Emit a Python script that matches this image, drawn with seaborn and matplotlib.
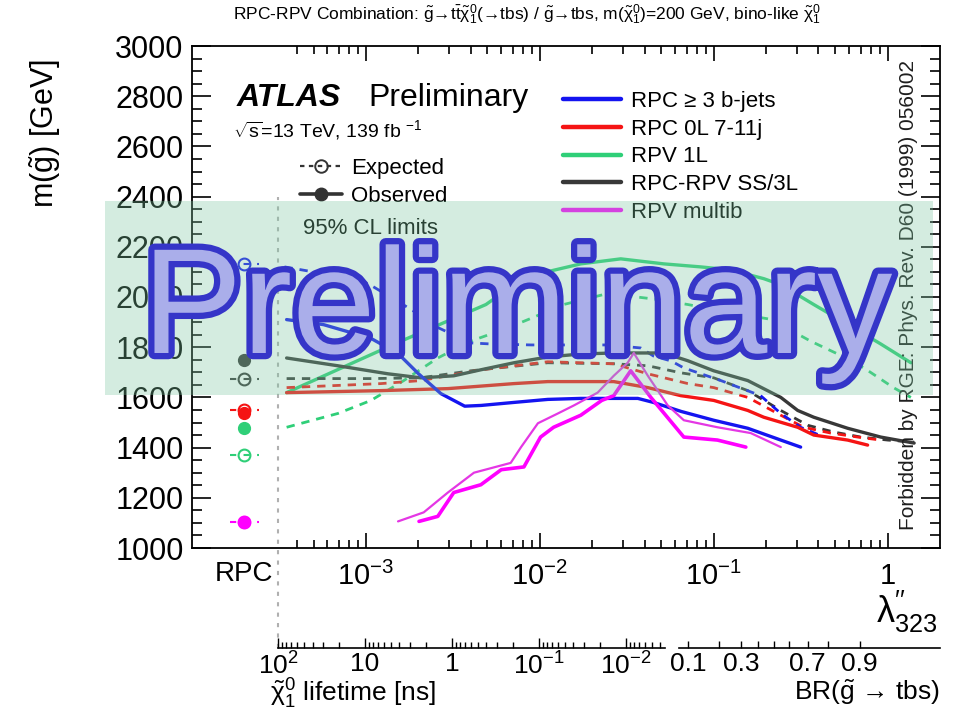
import numpy as np
import seaborn as sns
import matplotlib.pyplot as plt
import matplotlib.patheffects as pe
from matplotlib.lines import Line2D
from matplotlib.patches import Rectangle
from matplotlib.ticker import FixedLocator, FixedFormatter, NullFormatter

#################################################################
# Values: lambda''_323 (x) and m(gluino) in GeV (y)
blue_obs_lam = [3.5e-4, 5.7e-4, 1.07e-3, 1.53e-3, 2.0e-3, 2.7e-3, 3.7e-3, 4.6e-3, 7.1e-3,
                1.11e-2, 1.72e-2, 3.66e-2, 4.5e-2, 6.5e-2, 0.10, 0.157, 0.243, 0.316]
blue_obs_m = [1910, 1890, 1835, 1775, 1695, 1615, 1565, 1568, 1580,
              1592, 1596, 1596, 1580, 1544, 1509, 1477, 1430, 1402]
blue_exp_lam = [3.4e-4, 5.7e-4, 8.2e-4, 1.03e-3, 1.53e-3, 1.89e-3, 2.37e-3, 4.0e-3, 5.2e-3, 8.9e-3,
                2.46e-2, 3.8e-2, 4.5e-2, 5.7e-2, 6.7e-2, 0.11, 0.186, 0.243, 0.316, 0.43]
blue_exp_m = [2120, 2093, 2077, 2053, 1982, 1943, 1891, 1817, 1813, 1809,
              1809, 1797, 1765, 1745, 1718, 1667, 1607, 1536, 1481, 1442]

red_obs_lam = [3.5e-4, 1.22e-3, 2.96e-3, 7.1e-3, 1.11e-2, 2.66e-2, 4.18e-2, 6.46e-2,
               0.10, 0.157, 0.194, 0.304, 0.376, 0.589, 0.767]
red_obs_m = [1619, 1627, 1635, 1655, 1663, 1663, 1639, 1607,
             1588, 1548, 1521, 1481, 1450, 1430, 1410]
red_exp_lam = [3.5e-4, 1.22e-3, 2.07e-3, 4.58e-3, 1.11e-2, 2.66e-2, 4.18e-2, 7.1e-2,
               0.10, 0.157, 0.243, 0.329, 0.47, 0.673, 0.912]
red_exp_m = [1639, 1655, 1667, 1710, 1742, 1734, 1694, 1655,
             1639, 1600, 1529, 1481, 1458, 1442, 1430]

green_obs_lam = [3.5e-4, 1.59e-3, 4.9e-3, 7.1e-3, 1.11e-2, 1.72e-2, 2.92e-2, 5.16e-2,
                 8.4e-2, 0.125, 0.194, 0.243, 0.376, 0.589, 0.912, 1.36]
green_obs_m = [1619, 1824, 1970, 2049, 2101, 2132, 2152, 2132,
               2120, 2108, 2073, 2049, 1970, 1891, 1813, 1738]
green_exp_lam = [3.5e-4, 6.9e-4, 1.07e-3, 1.65e-3, 2.59e-3, 4.0e-3, 6.5e-3, 8.9e-3, 1.37e-2, 2.46e-2,
                 4.77e-2, 7.1e-2, 0.114, 0.213, 0.361, 0.516, 0.728, 1.08, 1.36]
green_exp_m = [1481, 1536, 1588, 1667, 1757, 1824, 1876, 1915, 1970, 2014,
               1990, 1970, 1943, 1911, 1824, 1773, 1718, 1639, 1600]

gray_obs_lam = [3.5e-4, 6.9e-4, 1.34e-3, 2.07e-3, 3.2e-3, 4.58e-3, 7.1e-3, 1.11e-2, 1.72e-2, 2.66e-2,
                5.16e-2, 7.1e-2, 0.10, 0.157, 0.243, 0.304, 0.376, 0.589, 0.912, 1.42]
gray_obs_m = [1757, 1726, 1694, 1678, 1686, 1710, 1738, 1761, 1773, 1777,
              1777, 1746, 1706, 1667, 1600, 1548, 1521, 1477, 1442, 1418]
gray_exp_lam = [3.5e-4, 1.07e-3, 2.07e-3, 4.0e-3, 1.11e-2, 2.66e-2, 4.18e-2, 6.46e-2,
                0.10, 0.157, 0.243, 0.347, 0.49, 0.70, 1.0, 1.42]
gray_exp_m = [1675, 1675, 1678, 1706, 1738, 1734, 1726, 1698,
              1678, 1627, 1548, 1489, 1462, 1442, 1430, 1422]

multib_obs_lam = [2.02e-3, 2.59e-3, 3.2e-3, 4.58e-3, 6.0e-3, 8.1e-3, 1.01e-2, 1.2e-2,
                  1.72e-2, 2.27e-2, 2.66e-2, 3.33e-2, 4.35e-2, 6.73e-2, 0.105, 0.153]
multib_obs_m = [1106, 1126, 1221, 1252, 1312, 1323, 1442, 1481,
                1529, 1588, 1607, 1706, 1600, 1442, 1430, 1402]
multib_exp_lam = [1.53e-3, 2.15e-3, 2.96e-3, 4.18e-3, 6.8e-3, 7.8e-3, 9.75e-3, 1.27e-2, 1.57e-2, 2.15e-2,
                  2.66e-2, 3.2e-2, 3.47e-2, 4.18e-2, 5.44e-2, 6.73e-2, 0.105, 0.163, 0.243]
multib_exp_m = [1106, 1142, 1221, 1300, 1339, 1402, 1497, 1536, 1568, 1619,
                1686, 1738, 1777, 1686, 1568, 1509, 1481, 1458, 1402]

# RPC-only results (left column); the blue observed point is hidden under the watermark
rpc_lam = 2e-4
rpc_names = ['blue', 'red', 'green', 'gray', 'multib']
rpc_exp_m = [2132, 1548, 1372, 1675, 1102]
rpc_obs_m = [np.nan, 1536, 1477, 1749, 1102]

# extra axes: lifetime [ns] and BR(gluino -> tbs)
lam_at_100ns = 3.12e-4
tau_ticks = [100, 10, 1, 0.1, 0.01]
tau_labels = [r'$10^{2}$', '10', '1', r'$10^{-1}$', r'$10^{-2}$']
br_values = [0.1, 0.2, 0.3, 0.4, 0.5, 0.6, 0.7, 0.8, 0.9]
br_lam = [0.071, 0.107, 0.143, 0.179, 0.221, 0.270, 0.347, 0.452, 0.690]
br_labels = ['0.1', '', '0.3', '', '', '', '0.7', '', '0.9']

legend_labels = ['RPC ≥ 3 b-jets', 'RPC 0L 7-11j', 'RPV 1L', 'RPC-RPV SS/3L', 'RPV multib']
#################################################################

colors = {'blue': '#1414f0', 'red': '#f51414', 'green': '#2fcf78', 'gray': '#383838', 'multib': '#ff00ff'}

sns.set_theme(style='ticks', rc={'axes.edgecolor': 'black', 'xtick.color': 'black',
                                 'ytick.color': 'black', 'text.color': 'black'})
plt.rcParams['font.family'] = ['Liberation Sans', 'DejaVu Sans']
plt.rcParams['mathtext.fontset'] = 'custom'
plt.rcParams['mathtext.rm'] = 'Liberation Sans'
plt.rcParams['mathtext.it'] = 'Liberation Sans:italic'
plt.rcParams['mathtext.bf'] = 'Liberation Sans:bold'

W, H = 958, 719
fig = plt.figure(figsize=(W / 100, H / 100), dpi=100)
ax = fig.add_axes([192 / W, 1 - 548 / H, 748 / W, 502 / H])
ax.set_xscale('log')
ax.set_xlim(1e-4, 2.0)
ax.set_ylim(1000, 3000)

dash = (0, (3, 2.5))
curves = [
    (green_exp_lam, green_exp_m, colors['green'], dash, 2.0),
    (green_obs_lam, green_obs_m, colors['green'], '-', 2.4),
    (gray_exp_lam, gray_exp_m, colors['gray'], dash, 2.0),
    (red_exp_lam, red_exp_m, colors['red'], dash, 2.0),
    (blue_exp_lam, blue_exp_m, colors['blue'], dash, 2.0),
    (gray_obs_lam, gray_obs_m, colors['gray'], '-', 2.4),
    (red_obs_lam, red_obs_m, colors['red'], '-', 2.4),
    (blue_obs_lam, blue_obs_m, colors['blue'], '-', 2.4),
    (multib_exp_lam, multib_exp_m, '#e437e4', '-', 1.6),
    (multib_obs_lam, multib_obs_m, colors['multib'], '-', 2.6),
]
for lam, m, col, ls, lw in curves:
    sns.lineplot(x=lam, y=m, ax=ax, color=col, lw=lw, linestyle=ls,
                 estimator=None, sort=False, legend=False)

# RPC column: expected (open) and observed (filled) markers
for name, me, mo in zip(rpc_names, rpc_exp_m, rpc_obs_m):
    c = colors[name]
    ax.plot([rpc_lam / 1.21, rpc_lam * 1.21], [me, me], color=c, lw=1.5, ls=(0, (3, 3.5)))
    ax.plot(rpc_lam, me, 'o', ms=8.5, mfc='none', mec=c, mew=1.5)
    ax.plot(rpc_lam, mo, 'o', ms=8.5, color=c)

# vertical separator between RPC column and RPV scan
ax.axvline(lam_at_100ns, ymin=-0.199, ymax=0.70, color='#b0b0b0', lw=1.5,
           ls=(0, (2, 3)), clip_on=False)

# ticks
ax.yaxis.set_major_locator(FixedLocator(np.arange(1000, 3001, 200)))
ax.yaxis.set_minor_locator(FixedLocator(np.arange(1000, 3001, 50)))
ax.xaxis.set_major_locator(FixedLocator([1e-3, 1e-2, 1e-1, 1]))
ax.xaxis.set_major_formatter(FixedFormatter([r'$10^{-3}$', r'$10^{-2}$', r'$10^{-1}$', '1']))
minor_x = [k * 10.0 ** e for e in range(-4, 0) for k in range(2, 10) if k * 10.0 ** e >= 4e-4]
ax.xaxis.set_minor_locator(FixedLocator(minor_x))
ax.xaxis.set_minor_formatter(NullFormatter())
ax.tick_params(which='both', direction='in', top=True, right=True, width=1.2)
ax.tick_params(axis='y', which='major', length=14, labelsize=22, pad=6)
ax.tick_params(axis='y', which='minor', length=7)
ax.tick_params(axis='x', which='major', length=11, labelsize=21, pad=10)
ax.tick_params(axis='x', which='minor', length=6)
for s in ax.spines.values():
    s.set_linewidth(1.3)
ax.text(rpc_lam, -0.025, 'RPC', transform=ax.get_xaxis_transform(), ha='center', va='top', fontsize=20)
ax.set_xlabel('')
ax.set_ylabel('')

# lifetime and BR axes below the main one
def make_sub_axis():
    b = fig.add_axes([192 / W, 1 - 648 / H, 748 / W, 0.01])
    b.set_xscale('log')
    b.set_xlim(ax.get_xlim())
    b.patch.set_visible(False)
    for s in ['top', 'left', 'right']:
        b.spines[s].set_visible(False)
    b.spines['bottom'].set_linewidth(1.2)
    b.yaxis.set_visible(False)
    b.tick_params(which='both', direction='in', width=1.0, labelsize=19, pad=3)
    b.tick_params(which='major', length=7)
    b.tick_params(which='minor', length=4)
    return b

def lam_of_tau(t):
    return lam_at_100ns * np.sqrt(100.0 / np.asarray(t, dtype=float))

axt = make_sub_axis()
axt.spines['bottom'].set_bounds(lam_of_tau(100), lam_of_tau(3.5e-3))
axt.xaxis.set_major_locator(FixedLocator(lam_of_tau(tau_ticks)))
axt.xaxis.set_major_formatter(FixedFormatter(tau_labels))
minor_tau = [k * 10.0 ** e for e in range(-3, 2) for k in range(2, 10) if 3.5e-3 <= k * 10.0 ** e <= 100]
axt.xaxis.set_minor_locator(FixedLocator(lam_of_tau(minor_tau)))
axt.xaxis.set_minor_formatter(NullFormatter())

axb = make_sub_axis()
axb.spines['bottom'].set_bounds(0.063, 2.0)
axb.xaxis.set_major_locator(FixedLocator(br_lam))
axb.xaxis.set_major_formatter(FixedFormatter(br_labels))
axb.xaxis.set_minor_locator(FixedLocator([]))
axb.tick_params(which='major', length=5)

# axis titles
fig.text(45 / W, 1 - 133 / H, r'm($\tilde{\mathrm{g}}$) [GeV]', rotation=90, ha='center', va='center', fontsize=22)
fig.text(938 / W, 1 - 612 / H, r"$\mathrm{\lambda}^{\prime\prime}_{323}$", ha='right', va='center', fontsize=26)
fig.text(270 / W, 1 - 694 / H, r'$\tilde{\mathrm{\chi}}^{0}_{1}$ lifetime [ns]', ha='left', va='center', fontsize=19)
fig.text(940 / W, 1 - 692 / H, r'BR($\tilde{\mathrm{g}}$ → tbs)', ha='right', va='center', fontsize=19)
fig.text(527 / W, 1 - 15 / H,
         r'RPC-RPV Combination: $\tilde{\mathrm{g}}$→t$\mathrm{\bar{t}}\tilde{\mathrm{\chi}}^{0}_{1}$(→tbs) / '
         r'$\tilde{\mathrm{g}}$→tbs, m($\tilde{\mathrm{\chi}}^{0}_{1}$)=200 GeV, bino-like $\tilde{\mathrm{\chi}}^{0}_{1}$',
         ha='center', va='center', fontsize=12.5)

# ATLAS label
fig.text(237 / W, 1 - 106 / H, 'ATLAS', fontsize=23, weight='bold', style='italic', va='baseline')
fig.text(368 / W, 1 - 106 / H, 'Preliminary', fontsize=23, va='baseline')
fig.text(233 / W, 1 - 137 / H, r'$\sqrt{\mathrm{s}}$=13 TeV, 139 fb $^{-1}$', fontsize=14, va='baseline')

# style legend
style_handles = [Line2D([], [], color='#333333', lw=1.6, ls=(0, (2, 2)), marker='o', ms=9, mfc='none', mew=1.4),
                 Line2D([], [], color='#333333', lw=2.6, marker='o', ms=9)]
leg1 = ax.legend(style_handles, ['Expected', 'Observed'], loc='upper left',
                 bbox_to_anchor=(300 / W, 1 - 158 / H), bbox_transform=fig.transFigure,
                 frameon=False, fontsize=16, handlelength=1.9, handletextpad=0.4,
                 labelspacing=0.3, borderpad=0, borderaxespad=0)
ax.add_artist(leg1)
fig.text(303 / W, 1 - 229 / H, '95% CL limits', fontsize=16, va='center')

# colour legend
col_handles = [Line2D([], [], color=colors[n], lw=3.2) for n in rpc_names]
leg2 = ax.legend(col_handles, legend_labels, loc='upper left',
                 bbox_to_anchor=(563 / W, 1 - 91 / H), bbox_transform=fig.transFigure,
                 frameon=False, fontsize=16, handlelength=2.6, handletextpad=0.45,
                 labelspacing=0.3, borderpad=0, borderaxespad=0)

ax.text(1.32, 1072, 'Forbidden by RGE: Phys. Rev. D60 (1999) 056002', rotation=90,
        ha='center', va='bottom', fontsize=15, color='#1e1e1e')

# watermark band and text
fig.add_artist(Rectangle((105 / W, 1 - 395 / H), 828 / W, 194 / H, transform=fig.transFigure,
                         facecolor='#7dc8a1', alpha=0.33, edgecolor='none', zorder=5))
fig.text(517 / W, 1 - 353 / H, 'Preliminary', ha='center', va='baseline', fontsize=108,
         color='#aaaeea', zorder=6,
         path_effects=[pe.Stroke(linewidth=9, foreground='#3535c8'), pe.Normal()])

fig.savefig('out.png', dpi=100)
